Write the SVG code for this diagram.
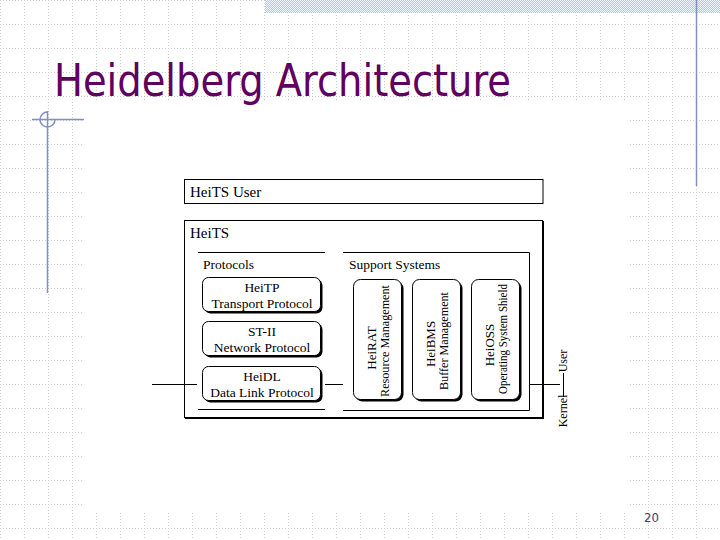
<svg xmlns="http://www.w3.org/2000/svg" width="720" height="540" viewBox="0 0 720 540">
<defs>
<pattern id="grid" width="24" height="24" patternUnits="userSpaceOnUse">
<path d="M0 0.5H24M0.5 0V24" stroke="#cdcdcd" stroke-width="1" stroke-dasharray="1 2" fill="none"/>
</pattern>
<pattern id="hatch" width="2" height="2" patternUnits="userSpaceOnUse">
<rect width="2" height="2" fill="#b9c7e8"/>
<rect width="1" height="1" fill="#eef2fa"/>
<rect x="1" y="1" width="1" height="1" fill="#eef2fa"/>
</pattern>
<style>
.lbl{font-family:"Liberation Serif","Times New Roman",serif;font-size:13.5px;fill:#000}
.big{font-size:15px}
.vt{font-size:13px}
.sm{font-size:12px}
.mid{text-anchor:middle}
.box{fill:#fff;stroke:#000;stroke-width:1}
.sh{fill:#000}
.ln{stroke:#000;stroke-width:1;fill:none}
.deco{stroke:#8090c0;stroke-width:1.5;fill:none}
</style>
</defs>
<g id="background">
<rect width="720" height="540" fill="#fff"/>
<rect width="720" height="540" fill="url(#grid)"/>
<rect x="84" y="100" width="544" height="412" fill="#fff"/>
<rect x="265" y="0" width="455" height="13" fill="url(#hatch)"/>
<path class="deco" d="M696.5 0V186"/>
<path class="deco" d="M32 119.5H84M47.5 111V293"/>
<path class="deco" stroke-width="1.2" d="M47.5 112A7.5 7.5 0 1 0 55 119.5"/>
</g>
<text id="title" x="54" y="96" font-family="'DejaVu Sans Condensed','DejaVu Sans',sans-serif" font-size="44" fill="#600060" textLength="457" lengthAdjust="spacingAndGlyphs">Heidelberg Architecture</text>
<text id="page" x="651.5" y="521.5" font-family="'DejaVu Sans Condensed','DejaVu Sans',sans-serif" font-size="13" fill="#404060" text-anchor="middle">20</text>

<g id="heits-user">
<rect class="box" x="184.5" y="179.5" width="358.5" height="24"/>
<text class="lbl big" x="190" y="197">HeiTS User</text>
</g>
<g id="heits">
<rect class="box" x="185.5" y="221.5" width="358" height="197"/>
<rect class="box" x="184.5" y="220.5" width="358" height="197"/>
<text class="lbl big" x="190" y="238">HeiTS</text>
</g>
<g id="protocols">
<path class="ln" d="M198 252.5H325M198 409.5H325"/>
<text class="lbl" x="203" y="269">Protocols</text>
</g>
<g id="support-systems">
<path class="ln" d="M343 252.5H529.5V410.5H343"/>
<text class="lbl" x="349" y="268.5">Support Systems</text>
</g>

<g id="connectors">
<path class="ln" d="M152 384.5H197M325 384.5H343M530 384.5H560M563.5 373V397"/>
</g>

<g id="heitp">
<rect class="sh" x="204.5" y="279.5" width="118" height="34" rx="6"/>
<rect class="box" x="202.5" y="277.5" width="118" height="34" rx="6"/>
<text class="lbl mid" x="262" y="292">HeiTP</text>
<text class="lbl mid" x="262" y="307.5">Transport Protocol</text>
</g>
<g id="st-ii">
<rect class="sh" x="204.5" y="323.5" width="118" height="34" rx="6"/>
<rect class="box" x="202.5" y="321.5" width="118" height="34" rx="6"/>
<text class="lbl mid" x="262" y="336">ST-II</text>
<text class="lbl mid" x="262" y="351.5">Network Protocol</text>
</g>
<g id="heidl">
<rect class="sh" x="204.5" y="368.5" width="118" height="34" rx="6"/>
<rect class="box" x="202.5" y="366.5" width="118" height="34" rx="6"/>
<text class="lbl mid" x="262" y="381">HeiDL</text>
<text class="lbl mid" x="262" y="396.5">Data Link Protocol</text>
</g>

<g id="heirat">
<rect class="sh" x="355.5" y="281.5" width="48" height="120" rx="7"/>
<rect class="box" x="353.5" y="279.5" width="48" height="120" rx="7"/>
<text class="lbl vt mid" transform="translate(375.5,348) rotate(-90)">HeiRAT</text>
<text class="lbl vt mid" transform="translate(388.5,341) rotate(-90)" textLength="112" lengthAdjust="spacingAndGlyphs">Resource Management</text>
</g>
<g id="heibms">
<rect class="sh" x="414.5" y="281.5" width="48" height="120" rx="7"/>
<rect class="box" x="412.5" y="279.5" width="48" height="120" rx="7"/>
<text class="lbl vt mid" transform="translate(434.5,344) rotate(-90)">HeiBMS</text>
<text class="lbl vt mid" transform="translate(447.5,341) rotate(-90)" textLength="98" lengthAdjust="spacingAndGlyphs">Buffer Management</text>
</g>
<g id="heioss">
<rect class="sh" x="473.5" y="281.5" width="48" height="120" rx="7"/>
<rect class="box" x="471.5" y="279.5" width="48" height="120" rx="7"/>
<text class="lbl vt mid" transform="translate(493.5,345) rotate(-90)">HeiOSS</text>
<text class="lbl vt mid" transform="translate(506.5,339) rotate(-90)" textLength="110" lengthAdjust="spacingAndGlyphs">Operating System Shield</text>
</g>

<g id="kernel-user">
<text class="lbl sm mid" transform="translate(567,361) rotate(-90)">User</text>
<text class="lbl sm mid" transform="translate(567,411) rotate(-90)">Kernel</text>
</g>
</svg>
